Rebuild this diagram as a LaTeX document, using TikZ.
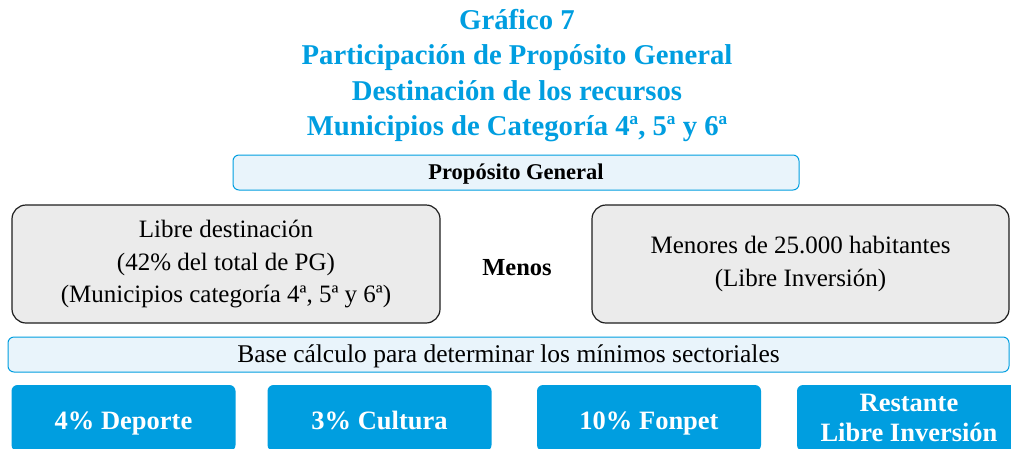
\documentclass[tikz,border=0pt]{standalone}
\usepackage{fontspec}
\setmainfont{Liberation Serif}
\usepackage{tikz}
\usetikzlibrary{positioning}
\usepackage{xcolor}
\definecolor{pgcyan}{RGB}{0,158,224}
\definecolor{pgpale}{RGB}{233,244,251}
\definecolor{pggray}{RGB}{235,235,235}
\definecolor{pgdark}{RGB}{30,30,30}
\tikzstyle{header} = [rectangle, rounded corners=6pt, minimum width=566pt, minimum height=35pt, text centered, draw=pgcyan, fill=pgpale, line width=1pt, font=\fontsize{22.5}{26}\selectfont\bfseries]
\tikzstyle{group} = [rectangle, rounded corners=14pt, minimum height=118pt, text centered, align=center, draw=pgdark, fill=pggray, line width=1.2pt, font=\fontsize{25}{32.5}\selectfont]
\tikzstyle{share} = [rectangle, rounded corners=6pt, minimum width=224pt, minimum height=66pt, text centered, align=center, fill=pgcyan, text=white, font=\fontsize{26.5}{30}\selectfont\bfseries]
\tikzstyle{oneline} = [text height=28pt, text depth=6pt]

\begin{document}
\begin{tikzpicture}[x=1pt, y=1pt]
\useasboundingbox (0,0) rectangle (1011,-448);
\clip (0,0) rectangle (1011,-448);
% Title
\node (title) at (517,-75.5) [align=center, text=pgcyan, font=\fontsize{28.7}{35.5}\selectfont\bfseries] {Gráfico 7\\Participación de Propósito General\\Destinación de los recursos\\Municipios de Categoría 4ª, 5ª y 6ª};

% Upper level
\node (pg) at (516,-172.5) [header, text height=17pt, text depth=3pt] {Propósito General};
\node (libre) at (226,-264) [group, minimum width=428pt] {Libre destinación\\(42\% del total de PG)\\(Municipios categoría 4ª, 5ª y 6ª)};
\node (menos) at (517,-268) [font=\fontsize{24.5}{26}\selectfont\bfseries] {Menos};
\node (menores) at (800.5,-264) [group, minimum width=417pt] {Menores de 25.000 habitantes\\(Libre Inversión)};

% Base and sectoral minimums
\node (base) at (508.5,-354.5) [header, minimum width=1001pt, font=\fontsize{25.5}{26}\selectfont, text height=20pt, text depth=4pt] {Base cálculo para determinar los mínimos sectoriales};
\node (deporte) at (123.5,-418) [share, oneline] {4\% Deporte};
\node (cultura) at (379.5,-418) [share, oneline] {3\% Cultura};
\node (fonpet) at (649,-418) [share, oneline] {10\% Fonpet};
\node (restante) at (909,-418) [share] {Restante\\Libre Inversión};
\end{tikzpicture}
\end{document}
